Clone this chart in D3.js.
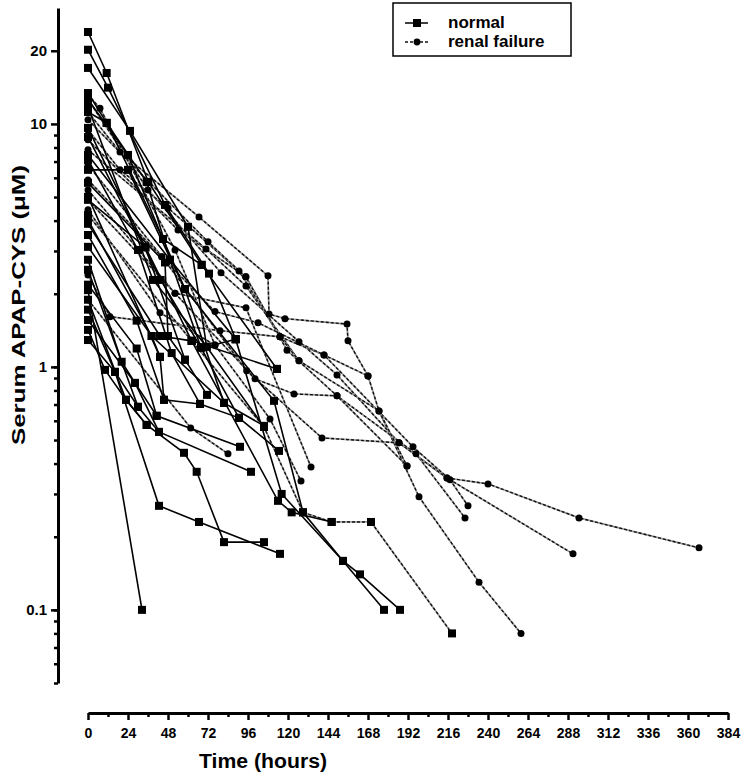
<!DOCTYPE html>
<html><head><meta charset="utf-8">
<script src="https://cdn.jsdelivr.net/npm/d3@7"></script>
<style>body{margin:0;background:#fff}svg{display:block;font-family:"Liberation Sans",Arial,sans-serif}</style>
</head><body>
<svg id="chart" width="742" height="776"></svg>
<script>
// ---- data (time in hours, serum APAP-CYS in µM) ----
const xTickValues = d3.range(0, 385, 24);
const yLabelValues = [0.1, 1, 10, 20];
const legendLabels = ["normal", "renal failure"];

const normal01 = [[0,23.9],[11.2,16.2],[36.2,5.77],[68.2,2.63],[113.4,0.981]];
const normal02 = [[0,20.2],[12,14.1],[46.2,4.64],[72.6,2.42],[88.6,1.30]];
const normal03 = [[0,17.0],[25.2,9.36],[60,3.77],[71.2,1.21],[105.6,0.566]];
const normal04 = [[0,13.4],[11.2,10.1],[35.2,5.77],[49.2,2.76],[67.8,1.20],[90.6,0.617]];
const normal05 = [[0,12.6],[24,7.45],[45,3.36],[58.2,2.09],[111.6,0.725],[129,0.252],[153,0.159],[177.6,0.100]];
const normal06 = [[0,1.89],[22.8,0.732],[35.2,0.577],[57.6,0.443],[65.2,0.370],[81.6,0.190],[105.6,0.190]];
const normal07 = [[0,1.72],[16.2,0.954],[42.6,0.268],[66.6,0.230],[115.2,0.170]];
const normal08 = [[0,2.07],[32.4,0.100]];
const normal09 = [[0,2.51],[30,0.685],[42.6,0.540],[97.8,0.370]];
const normal10 = [[0,2.18],[29.2,1.19],[41.2,0.629],[91.2,0.469]];
const normal11 = [[0,3.49],[29.2,1.55],[45.6,0.732],[67.2,0.704],[90.6,0.617],[114.6,0.451]];
const normal12 = [[0,3.12],[38.2,1.34],[81.6,0.711],[105.6,0.572]];
const normal13 = [[0,4.87],[34.6,3.10],[62.2,1.28],[114,0.281],[122.2,0.252],[146.2,0.230]];
const normal14 = [[0,7.45],[49.2,2.76],[88.6,1.30],[116.2,0.300],[153,0.159],[163.2,0.140],[187.2,0.100]];
const normal15 = [[0,9.63],[34.2,3.12],[58.2,1.07],[71.4,0.767]];
const normal16 = [[0,8.84],[43.6,2.28],[67.8,1.20]];
const normal17 = [[0,11.75],[39,2.28],[71.2,1.21],[88.6,1.30]];
const normal18 = [[0,7.11],[30,3.03],[50.2,1.14],[67.2,0.704]];
const normal19 = [[0,5.72],[46.2,2.69],[48,1.34],[58.2,1.07]];
const normal20 = [[0,5.01],[43.2,1.10],[45.6,0.732]];
const normal21 = [[0,4.03],[38.2,1.34],[43.2,1.10]];
const normal22 = [[0,2.76],[20.2,1.05],[28.2,0.859],[42.6,0.540]];
const normal23 = [[0,1.42],[10.2,0.972],[22.8,0.732],[35.2,0.577]];
const normal24 = [[0,1.29],[16.2,0.954],[30,0.685]];
const normal25 = [[0,1.56],[28.2,0.859],[41.2,0.629]];
const normal26 = [[0,3.88],[43.2,1.34],[62.2,1.28],[113.4,0.981]];
const normal27 = [[0,6.47],[24,6.47],[58.2,2.09],[81.6,0.711]];
const normal28 = [[0,11.2],[11.2,10.1],[45,3.36],[68.2,2.63]];

const renal01 = [[0,11.2],[19.2,7.67],[66.6,4.14],[108,2.37],[108.6,1.65],[118.2,1.58],[155.4,1.50],[156,1.28],[168,0.918],[174.6,0.659],[198.6,0.292],[234.6,0.130],[259.8,0.080]];
const renal02 = [[0,12.6],[36,5.35],[79.8,2.44],[126.6,1.27],[149.4,0.927],[186.6,0.487],[215.4,0.349],[240,0.330],[294.6,0.239],[366.6,0.180]];
const renal03 = [[0,9.45],[19.2,6.47],[48,4.51],[90.6,2.48],[115.2,1.33],[141.6,1.12],[195,0.469],[217.2,0.343],[228,0.268]];
const renal04 = [[0,8.6],[54,3.66],[94.8,2.35],[119.4,1.17],[149.4,0.760],[196.8,0.439],[226.2,0.239]];
const renal05 = [[0,7.82],[70.8,3.06],[94.8,2.15],[126.6,1.06],[174.6,0.659],[191.4,0.391]];
const renal06 = [[0,6.78],[44.4,2.84],[95.2,0.963],[140.4,0.510],[186.6,0.487],[215.4,0.349],[291,0.170]];
const renal07 = [[0,5.35],[52.2,2.01],[100.2,0.893],[123.6,0.774],[149.4,0.760],[191.4,0.391]];
const renal08 = [[0,4.43],[43.2,1.67],[76.2,1.23],[109.2,0.611],[127.8,0.339]];
const renal09 = [[0,4.87],[52.2,2.01],[94.8,1.75],[133.8,0.387]];
const renal10 = [[0,5.88],[44.2,2.84],[76.2,1.69],[102,1.52],[141.6,1.12],[168,0.918]];
const renal11 = [[0,10.4],[72,3.27],[94.6,2.35],[115.2,1.33],[126.6,1.06]];
const renal12 = [[0,1.89],[61.6,0.561],[84,0.439]];
const renal13 = [[0,2.39],[13.2,1.61],[79.2,1.41],[115.2,1.33]];
const renal14 = [[0,13.2],[7.2,11.6],[52.2,3.03],[76.2,1.23]];
const renalSq01 = [[0,4.22],[62.2,1.28],[105.6,0.566],[129,0.252],[146.2,0.230],[169.8,0.230],[218.4,0.080]];

const normalSeries = [normal01,normal02,normal03,normal04,normal05,normal06,normal07,normal08,normal09,normal10,
  normal11,normal12,normal13,normal14,normal15,normal16,normal17,normal18,normal19,normal20,
  normal21,normal22,normal23,normal24,normal25,normal26,normal27,normal28];
const renalSeries = [renal01,renal02,renal03,renal04,renal05,renal06,renal07,renal08,renal09,renal10,renal11,renal12,renal13,renal14];
const renalSquareSeries = [renalSq01];

// ---- scales ----
const svg = d3.select("#chart");
const x = d3.scaleLinear().domain([0, 384]).range([88, 728]);
const y = d3.scaleLog().domain([0.05, 30]).range([683, 8]);
const line = d3.line().x(d => x(d[0])).y(d => y(d[1]));

// ---- y axis ----
const minorY = [];
[0.01, 0.1, 1].forEach(b => { for (let k = 1; k <= 9; k++) { const v = +(b * k).toPrecision(3); if (v >= 0.05 && v < 10) minorY.push(v); } });
const yAxisG = svg.append("g").attr("transform", "translate(58,0)");
yAxisG.call(d3.axisLeft(y).tickValues(minorY).tickSize(4).tickSizeOuter(0).tickFormat(""));
yAxisG.append("g").call(d3.axisLeft(y).tickValues(yLabelValues).tickSize(7).tickSizeOuter(0).tickFormat(d => d >= 1 ? d3.format("d")(d) : d))
  .call(g => g.select(".domain").remove())
  .selectAll("text").attr("font-size", 15).attr("font-weight", "bold").attr("fill", "#000").attr("dx", "-1");
yAxisG.selectAll("path.domain").attr("stroke", "#000").attr("stroke-width", 3);
yAxisG.selectAll(".tick line").attr("stroke", "#000").attr("stroke-width", 2.5);

// ---- x axis ----
const xAxisG = svg.append("g").attr("transform", "translate(0,713)");
xAxisG.call(d3.axisBottom(x).tickValues(d3.range(12, 384, 24)).tickSize(4).tickSizeOuter(0).tickFormat(""));
xAxisG.append("g").call(d3.axisBottom(x).tickValues(xTickValues).tickSize(7).tickSizeOuter(0))
  .call(g => g.select(".domain").remove())
  .selectAll("text").attr("font-size", 14).attr("font-weight", "bold").attr("fill", "#000").attr("dy", "1.05em");
xAxisG.selectAll("path.domain").attr("stroke", "#000").attr("stroke-width", 3);
xAxisG.selectAll(".tick line").attr("stroke", "#000").attr("stroke-width", 2.5);

// ---- titles ----
svg.append("text").attr("x", 263).attr("y", 768).attr("text-anchor", "middle")
  .attr("font-size", 20).attr("font-weight", "bold").attr("textLength", 128).attr("lengthAdjust", "spacingAndGlyphs").text("Time (hours)");
svg.append("text").attr("transform", "translate(25,305) rotate(-90)").attr("text-anchor", "middle")
  .attr("font-size", 19).attr("font-weight", "bold").attr("textLength", 280).attr("lengthAdjust", "spacingAndGlyphs").text("Serum APAP-CYS (\u03bcM)");

// ---- lines ----
const plot = svg.append("g");
function dashed(sel) {
  sel.append("path").attr("d", d => line(d)).attr("fill", "none").attr("stroke", "#999").attr("stroke-width", 1.7);
  sel.append("path").attr("d", d => line(d)).attr("fill", "none").attr("stroke", "#111").attr("stroke-width", 1.4).attr("stroke-dasharray", "3,2");
}
plot.selectAll("g.renal").data(renalSeries.concat(renalSquareSeries)).join("g").attr("class", "renal").call(dashed);
plot.selectAll("path.normal").data(normalSeries).join("path").attr("class", "normal")
  .attr("d", d => line(d)).attr("fill", "none").attr("stroke", "#000").attr("stroke-width", 1.6);

// ---- markers ----
const sq = 8;
plot.selectAll("rect.nm").data(normalSeries.flat().concat(renalSquareSeries.flat())).join("rect").attr("class", "nm")
  .attr("x", d => x(d[0]) - sq / 2).attr("y", d => y(d[1]) - sq / 2).attr("width", sq).attr("height", sq).attr("fill", "#000");
plot.selectAll("circle.rm").data(renalSeries.flat()).join("circle").attr("class", "rm")
  .attr("cx", d => x(d[0])).attr("cy", d => y(d[1])).attr("r", 3.5).attr("fill", "#000");

// ---- legend ----
const lg = svg.append("g");
lg.append("rect").attr("x", 393).attr("y", 3).attr("width", 178).attr("height", 53).attr("fill", "#fff").attr("stroke", "#000").attr("stroke-width", 1.5);
lg.append("line").attr("x1", 405).attr("x2", 428).attr("y1", 23).attr("y2", 23).attr("stroke", "#000").attr("stroke-width", 1.5);
lg.append("rect").attr("x", 413).attr("y", 19).attr("width", 8).attr("height", 8).attr("fill", "#000");
lg.append("line").attr("x1", 405).attr("x2", 428).attr("y1", 42).attr("y2", 42).attr("stroke", "#111").attr("stroke-width", 1.3).attr("stroke-dasharray", "3,2");
lg.append("circle").attr("cx", 417).attr("cy", 42).attr("r", 3.4).attr("fill", "#000");
lg.selectAll("text.lt").data(legendLabels).join("text").attr("class", "lt")
  .attr("x", 448).attr("y", (d, i) => 28 + i * 19).attr("font-size", 17).attr("font-weight", "bold").text(d => d);
</script>
</body></html>
